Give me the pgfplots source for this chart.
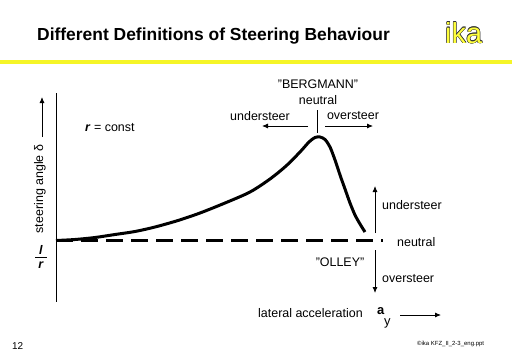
\documentclass[border=0pt]{standalone}
\usepackage{pgfplots}
\pgfplotsset{compat=1.18}
\usepackage{fontspec}
\setmainfont{Liberation Sans}
\usetikzlibrary{arrows.meta}
\definecolor{ikayellow}{RGB}{245,245,40}
\definecolor{ikatext}{RGB}{255,255,60}
\pgfplotstableread{
x y
56 240.5
75 239.5
95 237.5
115 234.5
135 231.5
155 227
178 220.5
200 213
225 203
250 192
270 179
286 166
300 152
309 142
315 137.5
320 137
325 139.5
330 147
335 160
340 175
345 189
350 203
355 215
360 224
365 232
}\curve
\pgfplotstableread{
x y
56 240.5
383 240.5
}\neutralline
\tikzset{ika/.style={anchor=base west, inner sep=0pt, text=black!80, font=\fontsize{29}{30}\selectfont},
  lbl/.style={inner sep=0pt, font=\fontsize{12.5}{14}\selectfont}}
\begin{document}
\begin{tikzpicture}
\begin{axis}[name=ax, at={(0,0)}, anchor=south west,
  hide axis, scale only axis, width=512bp, height=354bp,
  xmin=0, xmax=512, ymin=0, ymax=354, y dir=reverse, clip=false]
% title
\node[anchor=base west, inner sep=0pt, font=\fontsize{17.5}{20}\selectfont\bfseries] at (axis cs:37,40) {Different Definitions of Steering Behaviour};
% ika logo with outline
\node[ika, xshift=0.5bp] at (axis cs:445,43) {ika};
\node[ika, xshift=-0.5bp] at (axis cs:445,43) {ika};
\node[ika, yshift=0.5bp] at (axis cs:445,43) {ika};
\node[ika, yshift=-0.5bp] at (axis cs:445,43) {ika};
\node[ika, xshift=0.35bp, yshift=0.35bp] at (axis cs:445,43) {ika};
\node[ika, xshift=-0.35bp, yshift=0.35bp] at (axis cs:445,43) {ika};
\node[ika, xshift=0.35bp, yshift=-0.35bp] at (axis cs:445,43) {ika};
\node[ika, xshift=-0.35bp, yshift=-0.35bp] at (axis cs:445,43) {ika};
\node[ika, text=ikatext] at (axis cs:445,43) {ika};
% yellow rule
\draw[ikayellow, line width=3.2bp] (axis cs:0,62) -- (axis cs:512,62);
% y axis line
\draw[black, line width=1bp] (axis cs:56,93) -- (axis cs:56,302);
% neutral dashed
\addplot[black, line width=3bp, dash pattern=on 17bp off 8bp, no marks] table[x=x,y=y] {\neutralline};
% curve
\addplot[black, line width=3bp, smooth, tension=0.5, no marks] table[x=x,y=y] {\curve};
% Bergmann annotations
\node[lbl, anchor=base] at (axis cs:318,88) {\symbol{34}BERGMANN\symbol{34}};
\node[lbl, anchor=base] at (axis cs:318,104) {neutral};
\node[lbl, anchor=base] at (axis cs:260,120) {understeer};
\node[lbl, anchor=base] at (axis cs:353,119) {oversteer};
\draw[line width=0.8bp] (axis cs:317,110) -- (axis cs:317,133);
\draw[line width=0.8bp, -{Latex[length=6bp,width=5bp]}] (axis cs:308,126) -- (axis cs:262,126);
\draw[line width=0.8bp, -{Latex[length=6bp,width=5bp]}] (axis cs:325,126) -- (axis cs:373,126);
% r = const
\node[lbl, anchor=base west] at (axis cs:85,131) {\textbf{\textit{r}} = const};
% Olley annotations
\draw[line width=0.8bp, -{Latex[length=6bp,width=5bp]}] (axis cs:375,233) -- (axis cs:375,186);
\draw[line width=0.8bp, -{Latex[length=6bp,width=5bp]}] (axis cs:375,250) -- (axis cs:375,293);
\node[lbl, anchor=base west] at (axis cs:382,209) {understeer};
\node[lbl, anchor=base west] at (axis cs:397,246) {neutral};
\node[lbl, anchor=base] at (axis cs:340,266) {\symbol{34}OLLEY\symbol{34}};
\node[lbl, anchor=base west] at (axis cs:382,282) {oversteer};
% x label
\node[lbl, anchor=base west] at (axis cs:258,317) {lateral acceleration};
\node[anchor=base west, inner sep=0pt, font=\fontsize{13}{14}\selectfont\bfseries] at (axis cs:377,314) {a};
\node[anchor=base west, inner sep=0pt, font=\fontsize{13}{14}\selectfont] at (axis cs:384,325) {y};
\draw[line width=0.8bp, -{Latex[length=6bp,width=5bp]}] (axis cs:400,315) -- (axis cs:441,315);
% y label
\node[lbl, rotate=90, anchor=center] at (axis cs:40,189) {steering angle δ};
\draw[line width=0.8bp, -{Latex[length=6bp,width=5bp]}] (axis cs:42,137) -- (axis cs:42,97);
\node[lbl, anchor=base] at (axis cs:41,254) {\textbf{\textit{l}}};
\draw[line width=0.8bp] (axis cs:35,257) -- (axis cs:47,257);
\node[lbl, anchor=base] at (axis cs:41,268) {\textbf{\textit{r}}};
% footer
\node[anchor=base west, inner sep=0pt, font=\fontsize{10}{12}\selectfont] at (axis cs:12,349) {12};
\node[anchor=base west, inner sep=0pt, font=\fontsize{6}{7}\selectfont] at (axis cs:417,345) {\copyright ika KFZ\_II\_2-3\_eng.ppt};
\end{axis}
\pgfresetboundingbox
\path (ax.south west) rectangle (ax.north east);
\end{tikzpicture}
\end{document}
